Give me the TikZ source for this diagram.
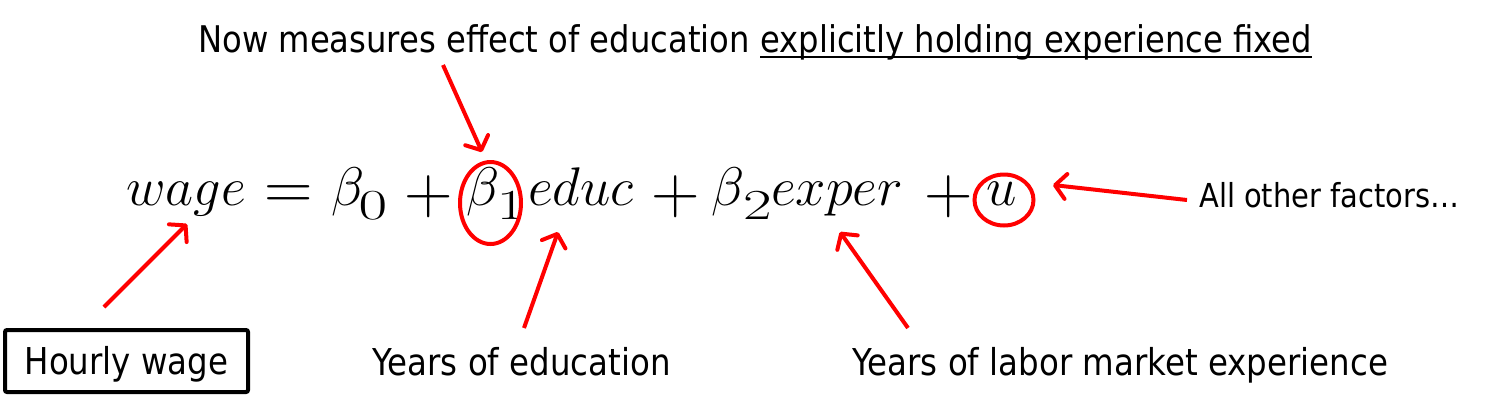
\documentclass[tikz,border=0pt]{standalone}
\usepackage{graphicx}
\usepackage{fontspec}
\setmainfont{DejaVu Sans}[FakeStretch=0.877]
\usetikzlibrary{arrows.meta,shapes.geometric}
\newcommand{\mletters}[1]{\scalebox{2.187}{\Huge$#1$}}
\newcommand{\mop}[1]{\scalebox{2.7}{\Huge$#1$}}
\newcommand{\mdigit}[1]{\scalebox{2.5}[1.72]{\Huge$#1$}}
\tikzset{
  lbl/.style={inner sep=0pt, anchor=base west, font=\fontsize{37}{40}\selectfont},
  toplbl/.style={inner sep=0pt, anchor=base west, font=\fontsize{36.75}{40}\selectfont},
  mp/.style={inner sep=0pt, anchor=base west},
  redarrow/.style={draw=red, line width=4pt, -{Straight Barb[length=11pt,width=25pt,line cap=round,line join=round]}},
  redring/.style={ellipse, draw=red, line width=4pt, inner sep=0pt},
}
\begin{document}
\begin{tikzpicture}[x=1pt,y=-1pt]
\useasboundingbox (0,0) rectangle (1510,408);
% equation pieces
\node[mp] (wage) at (126,205) {\mletters{wage}};
\node[mp] (eq) at (264.2,209.8) {\mop{=}};
\node[mp] (b0) at (331,205) {\mletters{\beta}};
\node[mp, anchor=base] (s0) at (373,219) {\mdigit{0}};
\node[mp] (p1) at (404.2,213.3) {\mop{+}};
\node[mp] (b1) at (466,205) {\mletters{\beta}};
\node[mp, anchor=base] (s1) at (511,219) {\mdigit{1}};
\node[mp] (educ) at (528,205) {\mletters{educ}};
\node[mp] (p2) at (651.2,213.3) {\mop{+}};
\node[mp] (b2) at (711,205) {\mletters{\beta}};
\node[mp, anchor=base] (s2) at (757.5,219) {\mdigit{2}};
\node[mp] (exper) at (771,205) {\mletters{exper}};
\node[mp] (p3) at (924.2,213.3) {\mop{+}};
\node[mp] (u) at (986,205) {\mletters{u}};
\node[redring, minimum width=61pt, minimum height=82pt] (c1) at (490.5,203) {};
\node[redring, minimum width=59pt, minimum height=51pt] (cu) at (1004,200) {};
% texts
\node[toplbl] (top1) at (198,52) {Now measures effect of education};
\node[toplbl] (top2) at ([xshift=10pt]top1.base east) {explicitly holding experience fixed};
\draw[line width=2pt] ([yshift=-5pt]top2.base west) -- ([yshift=-5pt]top2.base east);
\node[lbl, font=\fontsize{33}{36}\selectfont] (other) at (1199,207) {All other factors…};
\node[lbl] (yedu) at (372,375) {Years of education};
\node[lbl] (ylab) at (852,375) {Years of labor market experience};
\node[draw, line width=4pt, rounded corners=2pt, minimum width=243pt, minimum height=62pt, inner sep=0pt] (hw) at (126.5,361) {};
\node[lbl, anchor=base] (hwt) at (126.5,374) {Hourly wage};
% arrow end points
\coordinate (a1s) at (443,65);   \coordinate (a1e) at (482,152);
\coordinate (a2s) at (1187,200); \coordinate (a2e) at (1053,185);
\coordinate (a3s) at (104,307);  \coordinate (a3e) at (187,224);
\coordinate (a4s) at (524,328);  \coordinate (a4e) at (558,232);
\coordinate (a5s) at (908,328);  \coordinate (a5e) at (840,232);
\draw[redarrow] (a1s) -- (a1e);
\draw[redarrow] (a2s) -- (a2e);
\draw[redarrow] (a3s) -- (a3e);
\draw[redarrow] (a4s) -- (a4e);
\draw[redarrow] (a5s) -- (a5e);
\end{tikzpicture}
\end{document}
